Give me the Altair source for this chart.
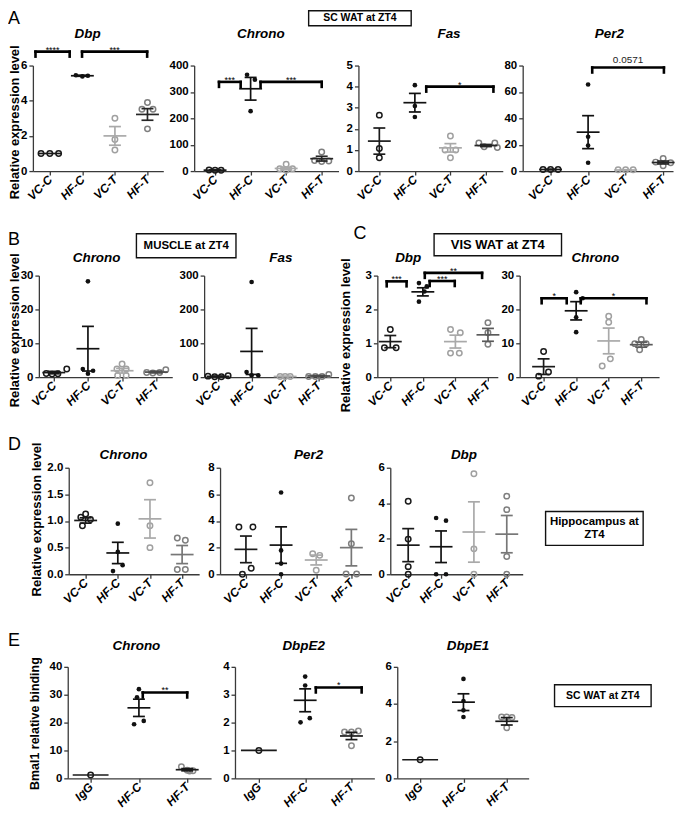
import altair as alt
import pandas as pd

FONT = "Liberation Sans"

CATS4 = ["VC-C", "HF-C", "VC-T", "HF-T"]
CATS3 = ["IgG", "HF-C", "HF-T"]

# ---------------- A : SC WAT at ZT4 ----------------
A_DBP_PTS = [[1.0, 1.0, 1.0], [5.45, 5.38, 5.42], [3.0, 1.8, 1.2], [3.9, 3.52, 3.52, 2.4]]
A_DBP_JIT = [[-0.27, 0.0, 0.27], [-0.2, 0.0, 0.17], [0, 0, 0], [0, -0.17, 0.17, 0]]
A_DBP_MEAN = [1.0, 5.42, 2.0, 3.22]
A_DBP_SEM = [0.0, 0.03, 0.53, 0.33]
A_DBP_BRK = [(-0.44, 0.61, 6.79, "****"), (0.99, 2.99, 6.79, "***")]

A_CHR_PTS = [[4, 3, 3], [365, 346, 227], [26, 9, 9, 3], [72, 40, 38, 36]]
A_CHR_JIT = [[-0.17, 0, 0.17], [-0.1, 0.12, 0], [0, -0.18, 0.18, 0], [0, -0.2, 0.2, 0]]
A_CHR_MEAN = [3.5, 312, 10, 47]
A_CHR_SEM = [0.5, 43, 5, 9]
A_CHR_BRK = [(0.11, 0.72, 338, "***"), (1.28, 3.0, 338, "***")]

A_FAS_PTS = [[2.65, 1.07, 0.63], [4.07, 3.08, 2.56], [1.66, 1.0, 1.0, 0.63], [1.33, 1.33, 1.15, 1.12]]
A_FAS_JIT = [[0, 0, 0], [0, 0, 0], [0, -0.15, 0.15, 0], [-0.2, 0.25, -0.05, 0.32]]
A_FAS_MEAN = [1.42, 3.24, 1.1, 1.21]
A_FAS_SEM = [0.62, 0.44, 0.2, 0.05]
A_FAS_BRK = [(1.32, 3.21, 4.0, "*")]

A_PER_PTS = [[1.2, 1.2, 1.2], [65.6, 26, 19.4, 6.3], [1.0, 1.0, 1.0], [9.6, 6.8, 6.3, 4.0]]
A_PER_JIT = [[-0.2, 0, 0.2], [0, 0, 0, 0], [-0.2, 0, 0.2], [0, -0.2, 0.2, 0]]
A_PER_MEAN = [1.2, 29.5, 0.8, 6.5]
A_PER_SEM = [0.1, 12.5, 0.2, 1.1]
A_PER_BRK = [(1.11, 3.02, 78.5, "0.0571")]

# ---------------- B : MUSCLE at ZT4 ----------------
B_CHR_PTS = [[1.1, 0.9, 1.0, 2.4], [28.3, 2.4, 1.9, 1.0], [3.9, 2.4, 2.4, 0.5, 0.5], [1.4, 1.2, 1.4, 2.2]]
B_CHR_JIT = [[-0.22, -0.05, 0.12, 0.38], [0, -0.15, 0.15, 0], [0, -0.15, 0.12, -0.13, 0.12], [-0.28, -0.1, 0.1, 0.28]]
B_CHR_MEAN = [1.35, 8.4, 1.9, 1.5]
B_CHR_SEM = [0.35, 6.6, 0.7, 0.25]

B_FAS_PTS = [[3, 1, 1, 4], [281, 15, 5, 5], [2, 2, 2], [2, 2, 2, 8]]
B_FAS_JIT = [[-0.3, -0.1, 0.1, 0.3], [0, -0.15, 0, 0.2], [-0.15, 0, 0.15], [-0.3, -0.1, 0.1, 0.3]]
B_FAS_MEAN = [2.2, 76, 2, 3.5]
B_FAS_SEM = [0.8, 68, 0.2, 1.5]

# ---------------- C : VIS WAT at ZT4 ----------------
C_DBP_PTS = [[1.41, 0.87, 0.87], [2.78, 2.68, 2.53, 2.23], [1.41, 1.31, 0.71, 0.71], [1.61, 1.31, 0.97]]
C_DBP_JIT = [[0, -0.18, 0.18], [-0.12, 0.12, 0.05, -0.12], [-0.15, 0.15, -0.15, 0.12], [0, 0, 0]]
C_DBP_MEAN = [1.05, 2.52, 1.05, 1.25]
C_DBP_SEM = [0.18, 0.12, 0.19, 0.19]
C_DBP_BRK = [(-0.11, 0.5, 2.83, "***"), (1.21, 1.98, 2.84, "***"), (1.06, 2.82, 3.08, "**")]

C_CHR_PTS = [[7.6, 1.5, 0.3], [25.1, 23.3, 17.7, 13.3], [18, 16.2, 5.4, 3.3], [11.1, 9.9, 9.9, 8.1]]
C_CHR_JIT = [[0, 0.15, -0.15], [0, 0.2, 0, 0], [0, 0, 0.05, -0.2], [0, -0.2, 0.15, -0.05]]
C_CHR_MEAN = [3.1, 19.6, 10.7, 9.6]
C_CHR_SEM = [2.3, 2.7, 3.8, 0.75]
C_CHR_BRK = [(-0.06, 0.71, 23.3, "*"), (1.14, 3.16, 23.3, "*")]

# ---------------- D : Hippocampus at ZT4 ----------------
D_CHR_PTS = [[1.13, 1.07, 1.03, 0.91], [0.95, 0.42, 0.17, 0.06], [1.72, 0.91, 0.5], [0.68, 0.64, 0.09, 0.09]]
D_CHR_JIT = [[0, -0.15, 0.15, -0.1], [0, 0, 0.15, -0.15], [0, 0, 0], [-0.15, 0.1, -0.15, 0.1]]
D_CHR_MEAN = [1.01, 0.4, 1.04, 0.37]
D_CHR_SEM = [0.05, 0.2, 0.36, 0.17]

D_PER_PTS = [[3.55, 3.55, 0.45, 0.0], [6.14, 1.79, 0.8, 0.0], [1.54, 1.42, 0.3], [5.72, 2.29, 0.02, 0.02]]
D_PER_JIT = [[-0.2, 0.2, 0.15, -0.1], [0, 0, 0, 0], [-0.1, 0.1, 0], [0, 0, -0.15, 0.15]]
D_PER_MEAN = [1.87, 2.19, 1.07, 2.0]
D_PER_SEM = [1.0, 1.37, 0.37, 1.37]

D_DBP_PTS = [[4.11, 1.98, 0.43, 0.0], [3.17, 3.02, 0.0, 0.0], [5.66, 1.43, 0.0], [4.4, 3.64, 1.0, 0.0]]
D_DBP_JIT = [[0, 0, 0, 0], [-0.15, 0.15, -0.15, 0.15], [0, 0, 0], [0, 0, 0, 0]]
D_DBP_MEAN = [1.64, 1.55, 2.38, 2.26]
D_DBP_SEM = [0.93, 0.89, 1.7, 1.05]

# ---------------- E : Bmal1 ChIP, SC WAT at ZT4 ----------------
E_CHR_PTS = [[1.2], [32, 29.1, 19.4, 20.6], [4.2, 2.9, 2.7, 2.6]]
E_CHR_JIT = [[0], [0, -0.04, -0.1, 0.1], [-0.12, 0.0, 0.12, 0.05]]
E_CHR_MEAN = [1.2, 25.3, 3.1]
E_CHR_SEM = [0.0, 3.1, 0.4]
E_CHR_BRK = [(1.08, 2.0, 30.8, "**")]

E_E2_PTS = [[1.0], [3.65, 3.33, 2.01, 2.16], [1.7, 1.66, 1.66, 1.17]]
E_E2_JIT = [[0], [0, 0, -0.1, 0.1], [0.15, -0.15, 0, 0]]
E_E2_MEAN = [1.0, 2.8, 1.52]
E_E2_SEM = [0.0, 0.41, 0.13]
E_E2_BRK = [(1.23, 2.22, 3.26, "*")]

E_E1_PTS = [[1.0], [5.35, 4.16, 3.66, 3.3], [3.3, 3.3, 3.27, 2.72]]
E_E1_JIT = [[0], [0, 0, 0, 0], [-0.12, 0.0, 0.12, 0]]
E_E1_MEAN = [1.0, 4.1, 3.07]
E_E1_SEM = [0.0, 0.45, 0.2]

# ---------------- styles ----------------
PT4 = ["#1a1a1a", "#111111", "#a0a0a0", "#7f7f7f"]
FILL4 = [False, True, False, False]
LINES_A = ["#1a1a1a", "#111111", "#a9a9a9", "#262626"]
LINES_B = ["#1a1a1a", "#111111", "#a9a9a9", "#4a4a4a"]
LINES_C = ["#1a1a1a", "#111111", "#a9a9a9", "#5a5a5a"]
LINES_D = ["#1a1a1a", "#111111", "#a9a9a9", "#777777"]
PT3 = ["#1a1a1a", "#111111", "#8a8a8a"]
FILL3 = [False, True, False]
LINES_E = ["#1a1a1a", "#111111", "#1a1a1a"]

AXC = "#3a3a3a"
MEAN_HW = 11.5
IGG_HW = 18
WHISK_HW = 6
TITLE_FS = 13.5
YTITLE_FS = 13

# layout in page px: left, right, first category x, category step, top, height
LAYOUT = {
    "A_dbp": (33, 164, 50, 32.7, 64, 106),
    "A_chr": (195, 340, 216, 35.7, 64, 106),
    "A_fas": (360, 505, 381, 35.7, 64, 106),
    "A_per": (525, 676, 553, 37.7, 64, 106),
    "B_chr": (39, 173, 54, 34.3, 275, 102),
    "B_fas": (205, 340, 219, 33.7, 275, 102),
    "C_dbp": (379, 500, 392, 32.7, 275, 102),
    "C_chr": (522, 662, 546, 32.7, 275, 102),
    "D_chr": (69, 200, 86, 32.3, 468, 107),
    "D_per": (221, 373, 247, 35.3, 468, 107),
    "D_dbp": (392, 525, 410, 33.0, 468, 107),
    "E_chr": (68, 212, 91, 48.5, 668, 112),
    "E_e2": (236, 376, 260, 46.5, 668, 112),
    "E_e1": (399, 531, 422, 43.5, 668, 112),
}


def cat_expr(cats):
    expr = "''"
    for i in range(len(cats) - 1, -1, -1):
        expr = "datum.value == %d ? '%s' : (%s)" % (i, cats[i], expr)
    return expr


def one():
    return alt.Data(values=[{"k": 0}])


def txt(text, x, y, size, weight="normal", style="normal", align="center", baseline="middle", angle=0):
    return alt.Chart(one()).mark_text(
        text=text, font=FONT, fontSize=size, fontWeight=weight, fontStyle=style,
        align=align, baseline=baseline, angle=angle, color="black",
    ).encode(x=alt.value(x), y=alt.value(y))


def box(x1, x2, y1, y2):
    return alt.Chart(one()).mark_rect(fill="white", stroke="#111111", strokeWidth=1.4).encode(
        x=alt.value(x1), x2=alt.value(x2), y=alt.value(y1), y2=alt.value(y2))


def anchor(x, y1, y2):
    return alt.Chart(one()).mark_rule(color="white", strokeWidth=1).encode(
        x=alt.value(x), y=alt.value(y1), y2=alt.value(y2))


def panel(key, cats, pts, jit, means, sems, ymax, yticks, yfmt, lines, ptc, fills, brks=(), extras=()):
    left, right, first, step, top, height = LAYOUT[key]
    width = right - left
    xs = alt.Scale(domain=[(left - first) / step, (right - first) / step], nice=False, zero=False)
    ys = alt.Scale(domain=[0, ymax], nice=False, zero=False)
    xax = alt.Axis(values=list(range(len(cats))), labelExpr=cat_expr(cats), title=None, grid=False,
                   labelAngle=-45, labelAlign="right", labelBaseline="middle",
                   labelFont=FONT, labelFontSize=12, labelFontWeight="bold", labelFontStyle="italic",
                   labelColor="black", labelPadding=2, tickSize=4, tickColor=AXC, tickWidth=1.3,
                   domainColor=AXC, domainWidth=1.3, labelOverlap=False)
    yax = alt.Axis(values=yticks, format=yfmt, title=None, grid=False,
                   labelFont=FONT, labelFontSize=11.5, labelFontWeight="bold", labelColor="black",
                   labelPadding=2, tickSize=4, tickColor=AXC, tickWidth=1.3,
                   domainColor=AXC, domainWidth=1.3, labelOverlap=False)

    def X(f):
        return alt.X(f, type="quantitative", scale=xs, axis=xax)

    def Y(f):
        return alt.Y(f, type="quantitative", scale=ys, axis=yax)

    prow = []
    for i, (vals, js) in enumerate(zip(pts, jit)):
        for v, j in zip(vals, js):
            prow.append({"x": i + j, "v": v, "c": ptc[i], "f": fills[i]})
    pdf = pd.DataFrame(prow)
    srow = []
    for i, (m, s) in enumerate(zip(means, sems)):
        srow.append({"i": i, "m": m, "s": s, "lo": m - s, "hi": m + s, "c": lines[i],
                     "w": IGG_HW if cats[i] == "IgG" else MEAN_HW})
    sdf = pd.DataFrame(srow)
    col = alt.Color("c:N", scale=None)

    layers = [
        alt.Chart(pdf[~pdf["f"]]).mark_point(shape="circle", filled=False, size=30, strokeWidth=1.5, opacity=1)
        .encode(x=X("x"), y=Y("v"), color=col),
        alt.Chart(pdf[pdf["f"]]).mark_circle(size=22, opacity=1)
        .encode(x=X("x"), y=Y("v"), color=col),
    ]
    for hw in sorted(set(sdf["w"])):
        layers.append(alt.Chart(sdf[sdf["w"] == hw]).mark_rule(strokeWidth=1.7, xOffset=-hw, x2Offset=hw)
                      .encode(x=X("i"), x2="i", y=Y("m"), color=col))
    edf = sdf[sdf["s"] > 0]
    layers += [
        alt.Chart(edf).mark_rule(strokeWidth=1.7, xOffset=-WHISK_HW, x2Offset=WHISK_HW)
        .encode(x=X("i"), x2="i", y=Y("hi"), color=col),
        alt.Chart(edf).mark_rule(strokeWidth=1.7, xOffset=-WHISK_HW, x2Offset=WHISK_HW)
        .encode(x=X("i"), x2="i", y=Y("lo"), color=col),
        alt.Chart(edf).mark_rule(strokeWidth=1.7).encode(x=X("i"), y=Y("lo"), y2="hi", color=col),
    ]
    if brks:
        bdf = pd.DataFrame([{"x1": a, "x2": b, "y": y, "t": t, "xm": (a + b) / 2} for a, b, y, t in brks])
        bs = dict(color="black", strokeWidth=2.6, strokeCap="square")
        layers += [
            alt.Chart(bdf).mark_rule(**bs).encode(x=X("x1"), x2="x2", y=Y("y")),
            alt.Chart(bdf).mark_rule(y2Offset=5, **bs).encode(x=X("x1"), y=Y("y"), y2="y"),
            alt.Chart(bdf).mark_rule(y2Offset=5, **bs).encode(x=X("x2"), y=Y("y"), y2="y"),
        ]
        stars = bdf[bdf["t"].str.contains(r"\*")]
        nums = bdf[~bdf["t"].str.contains(r"\*")]
        if len(stars):
            layers.append(alt.Chart(stars).mark_text(font=FONT, fontSize=9, baseline="alphabetic", dy=1, color="black")
                          .encode(x=X("xm"), y=Y("y"), text="t:N"))
        if len(nums):
            layers.append(alt.Chart(nums).mark_text(font=FONT, fontSize=10, baseline="alphabetic", dy=-5, color="#222222")
                          .encode(x=X("xm"), y=Y("y"), text="t:N"))
    layers += list(extras)
    return alt.layer(*layers).properties(width=width, height=height)


def spacer(w, h=1):
    return alt.Chart(one()).mark_point(opacity=0).encode(
        x=alt.X("k:Q", axis=None), y=alt.Y("k:Q", axis=None)).properties(width=w, height=h)


YT = "Relative expression level"

a_dbp = panel("A_dbp", CATS4, A_DBP_PTS, A_DBP_JIT, A_DBP_MEAN, A_DBP_SEM, 6, [0, 2, 4, 6], "d",
              LINES_A, PT4, FILL4, A_DBP_BRK,
              [anchor(-24.5, -55.5, 150.5), txt("A", -25, -56, 18, align="left", baseline="top"),
               txt("Dbp", 55, -32, TITLE_FS, "bold", "italic"), txt(YT, -18, 57, YTITLE_FS, "bold", angle=270)])
a_chr = panel("A_chr", CATS4, A_CHR_PTS, A_CHR_JIT, A_CHR_MEAN, A_CHR_SEM, 400, [0, 100, 200, 300, 400], "d",
              LINES_A, PT4, FILL4, A_CHR_BRK,
              [box(115, 218, -55, -40), txt("SC WAT at ZT4", 166.5, -47.5, 10.5, "bold"),
               txt("Chrono", 67, -32, TITLE_FS, "bold", "italic")])
a_fas = panel("A_fas", CATS4, A_FAS_PTS, A_FAS_JIT, A_FAS_MEAN, A_FAS_SEM, 5, [0, 1, 2, 3, 4, 5], "d",
              LINES_A, PT4, FILL4, A_FAS_BRK, [txt("Fas", 91, -32, TITLE_FS, "bold", "italic")])
a_per = panel("A_per", CATS4, A_PER_PTS, A_PER_JIT, A_PER_MEAN, A_PER_SEM, 80, [0, 20, 40, 60, 80], "d",
              LINES_A, PT4, FILL4, A_PER_BRK, [txt("Per2", 87, -32, TITLE_FS, "bold", "italic")])

b_chr = panel("B_chr", CATS4, B_CHR_PTS, B_CHR_JIT, B_CHR_MEAN, B_CHR_SEM, 30, [0, 10, 20, 30], "d",
              LINES_B, PT4, FILL4, (),
              [anchor(-30.5, -59.5, 146.5), txt("B", -31, -45, 18, align="left", baseline="top"),
               box(98, 198, -42, -18), txt("MUSCLE at ZT4", 148, -30, 11.5, "bold"),
               txt("Chrono", 58, -18, TITLE_FS, "bold", "italic"), txt(YT, -24, 55, YTITLE_FS, "bold", angle=270)])
b_fas = panel("B_fas", CATS4, B_FAS_PTS, B_FAS_JIT, B_FAS_MEAN, B_FAS_SEM, 300, [0, 100, 200, 300], "d",
              LINES_B, PT4, FILL4, (), [txt("Fas", 77, -18, TITLE_FS, "bold", "italic")])
c_dbp = panel("C_dbp", CATS4, C_DBP_PTS, C_DBP_JIT, C_DBP_MEAN, C_DBP_SEM, 3, [0, 1, 2, 3], "d",
              LINES_C, PT4, FILL4, C_DBP_BRK,
              [txt("C", -24, -51, 18, align="left", baseline="top"),
               box(57, 185, -42, -20), txt("VIS WAT at ZT4", 121, -31, 13, "bold"),
               txt("Dbp", 31, -18, TITLE_FS, "bold", "italic"), txt(YT, -31, 60, YTITLE_FS, "bold", angle=270)])
c_chr = panel("C_chr", CATS4, C_CHR_PTS, C_CHR_JIT, C_CHR_MEAN, C_CHR_SEM, 30, [0, 10, 20, 30], "d",
              LINES_C, PT4, FILL4, C_CHR_BRK, [txt("Chrono", 76, -18, TITLE_FS, "bold", "italic")])

d_chr = panel("D_chr", CATS4, D_CHR_PTS, D_CHR_JIT, D_CHR_MEAN, D_CHR_SEM, 2, [0, 0.5, 1, 1.5, 2], ".1f",
              LINES_D, PT4, FILL4, (),
              [anchor(-60.5, -45.5, 151.5), txt("D", -61, -32, 18, align="left", baseline="top"),
               txt("Chrono", 55, -13, TITLE_FS, "bold", "italic"), txt(YT, -32, 52, YTITLE_FS, "bold", angle=270)])
d_per = panel("D_per", CATS4, D_PER_PTS, D_PER_JIT, D_PER_MEAN, D_PER_SEM, 8, [0, 2, 4, 6, 8], "d",
              LINES_D, PT4, FILL4, (), [txt("Per2", 89, -13, TITLE_FS, "bold", "italic")])
d_dbp = panel("D_dbp", CATS4, D_DBP_PTS, D_DBP_JIT, D_DBP_MEAN, D_DBP_SEM, 6, [0, 2, 4, 6], "d",
              LINES_D, PT4, FILL4, (),
              [txt("Dbp", 74, -13, TITLE_FS, "bold", "italic"), box(156, 254, 44, 78),
               txt("Hippocampus at", 205, 55, 11.5, "bold"), txt("ZT4", 205, 68, 11.5, "bold")])

e_chr = panel("E_chr", CATS3, E_CHR_PTS, E_CHR_JIT, E_CHR_MEAN, E_CHR_SEM, 40, [0, 10, 20, 30, 40], "d",
              LINES_E, PT3, FILL3, E_CHR_BRK,
              [anchor(-59.5, -47.5, 139.5), txt("E", -60, -35, 18, align="left", baseline="top"),
               txt("Chrono", 69, -21, TITLE_FS, "bold", "italic"),
               txt("Bmal1 relative binding", -33, 57, 12.5, "bold", angle=270)])
e_e2 = panel("E_e2", CATS3, E_E2_PTS, E_E2_JIT, E_E2_MEAN, E_E2_SEM, 4, [0, 1, 2, 3, 4], "d",
             LINES_E, PT3, FILL3, E_E2_BRK, [txt("DbpE2", 69, -21, TITLE_FS, "bold", "italic")])
e_e1 = panel("E_e1", CATS3, E_E1_PTS, E_E1_JIT, E_E1_MEAN, E_E1_SEM, 6, [0, 2, 4, 6], "d",
             LINES_E, PT3, FILL3, (),
             [txt("DbpE1", 71, -21, TITLE_FS, "bold", "italic"), box(158, 255, 18, 40),
              txt("SC WAT at ZT4", 206.5, 29, 10.5, "bold")])

row_a = alt.hconcat(a_dbp, spacer(31), a_chr, spacer(20), a_fas, spacer(20), a_per, spacing=0, bounds="flush")
row_bc = alt.hconcat(spacer(6), b_chr, spacer(32), b_fas, spacer(39), c_dbp, spacer(22), c_chr,
                     spacing=0, bounds="flush")
row_d = alt.hconcat(spacer(36), d_chr, spacer(21), d_per, spacer(19), d_dbp, spacing=0, bounds="flush")
row_e = alt.hconcat(spacer(35), e_chr, spacer(24), e_e2, spacer(23), e_e1, spacing=0, bounds="flush")

chart = alt.vconcat(row_a, row_bc, row_d, row_e, spacing=0, padding=0).configure_view(stroke=None)

chart.save("out.html", embed_options={"renderer": "svg", "actions": False})
